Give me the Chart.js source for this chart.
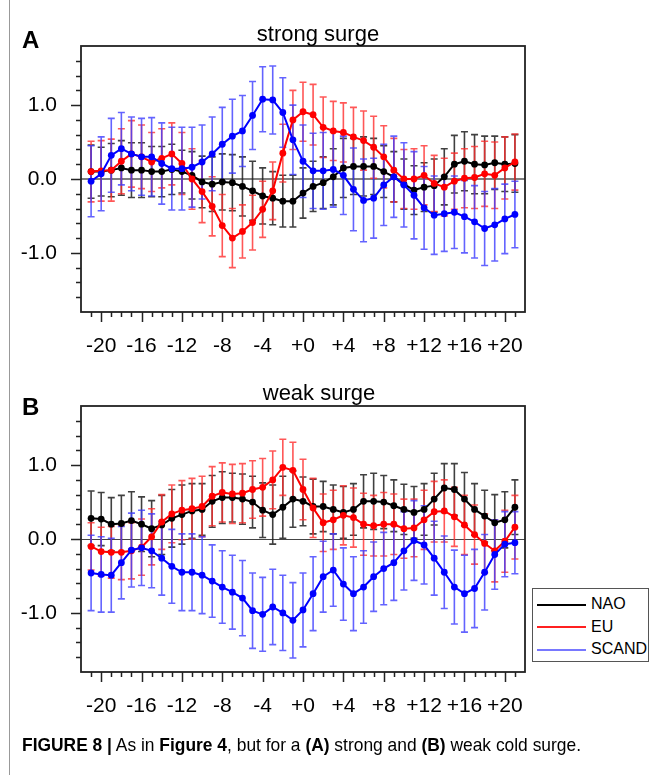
<!DOCTYPE html>
<html>
<head>
<meta charset="utf-8">
<script src="https://cdn.jsdelivr.net/npm/chart.js@4/dist/chart.umd.min.js"></script>
<style>
  body { margin: 0; background: #fff; font-family: 'Liberation Sans', Helvetica, Arial, sans-serif; }
  #page { position: relative; width: 652px; height: 775px; overflow: hidden; }
  canvas { position: absolute; left: 0; }
  .lbl { position: absolute; font-weight: bold; font-size: 24px; line-height: 1; }
  .ttl { position: absolute; font-size: 22px; line-height: 1; transform: translate(-50%, -50%); white-space: nowrap; }
  #border { position: absolute; left: 9px; top: 0; width: 1px; height: 775px; background: #999; }
  #legend { position: absolute; left: 532px; top: 588px; width: 115px; height: 72px; border: 1px solid #555; background: #fff; }
  .item { position: absolute; left: 4px; height: 20px; font-size: 16px; line-height: 20px; white-space: nowrap; }
  .item span.ln { display: inline-block; width: 49px; height: 2px; vertical-align: middle; margin-right: 5px; }
  #caption { position: absolute; left: 22px; top: 734px; font-family: 'Liberation Sans Narrow', 'Liberation Sans', Arial, sans-serif; font-size: 18.5px; line-height: 21px; white-space: nowrap; transform-origin: 0 0; }
</style>
</head>
<body>
<div id="page">
  <div id="border"></div>
  <canvas id="chartA" width="652" height="365" style="top:0"></canvas>
  <canvas id="chartB" width="652" height="365" style="top:360px"></canvas>
  <div class="lbl" style="left:22px; top:28px">A</div>
  <div class="lbl" style="left:22px; top:395px">B</div>
  <div class="ttl" style="left:318px; top:34px">strong surge</div>
  <div class="ttl" style="left:319px; top:393px">weak surge</div>
  <div id="legend"></div>
  <div id="caption"><b>FIGURE 8 |</b> As in <b>Figure 4</b>, but for a <b>(A)</b> strong and <b>(B)</b> weak cold surge.</div>
</div>
<script>
// lag in days
const days = [-21,-20,-19,-18,-17,-16,-15,-14,-13,-12,-11,-10,-9,-8,-7,-6,-5,-4,-3,-2,-1,
              0,1,2,3,4,5,6,7,8,9,10,11,12,13,14,15,16,17,18,19,20,21];

const seriesNames = ['NAO', 'EU', 'SCAND'];

// (A) strong surge
const naoA = [0.10,0.10,0.12,0.15,0.12,0.12,0.10,0.10,0.13,0.10,
              0.05,-0.04,-0.07,-0.04,-0.05,-0.10,-0.16,-0.23,-0.26,-0.30,-0.30,
              -0.19,-0.10,-0.05,0.03,0.15,0.17,0.17,0.17,0.10,0.03,
              -0.07,-0.15,-0.11,-0.09,0.03,0.20,0.24,0.20,0.19,0.22,
              0.20,0.21];
const euA = [0.10,0.11,0.12,0.24,0.34,0.30,0.23,0.28,0.34,0.21,
             0.00,-0.17,-0.37,-0.63,-0.80,-0.71,-0.59,-0.41,-0.16,0.35,0.80,
             0.91,0.87,0.70,0.65,0.63,0.57,0.52,0.43,0.30,0.12,
             0.00,0.00,0.05,-0.06,-0.11,-0.03,0.01,0.02,0.07,0.05,
             0.15,0.23];
const scandA = [-0.03,0.07,0.32,0.41,0.34,0.30,0.30,0.21,0.14,0.14,
                0.16,0.23,0.34,0.47,0.58,0.65,0.86,1.08,1.07,0.90,0.53,
                0.24,0.11,0.11,0.13,0.05,-0.14,-0.29,-0.26,-0.08,0.03,
                -0.08,-0.22,-0.39,-0.49,-0.47,-0.45,-0.51,-0.58,-0.67,-0.62,
                -0.54,-0.48];
// error bar half widths
const naoErrA = [0.36,0.33,0.36,0.37,0.37,0.37,0.34,0.34,0.34,0.29,
                 0.32,0.35,0.37,0.38,0.38,0.40,0.40,0.38,0.36,0.35,0.35,
                 0.34,0.34,0.35,0.38,0.40,0.38,0.40,0.38,0.35,0.34,
                 0.34,0.33,0.33,0.36,0.38,0.39,0.40,0.40,0.39,0.36,
                 0.37,0.39];
const euErrA = [0.41,0.41,0.42,0.44,0.45,0.43,0.40,0.40,0.42,0.42,
                0.41,0.42,0.40,0.42,0.40,0.36,0.37,0.38,0.39,0.39,0.40,
                0.40,0.41,0.41,0.40,0.40,0.40,0.40,0.42,0.42,0.43,
                0.40,0.41,0.40,0.38,0.39,0.38,0.40,0.42,0.44,0.45,
                0.42,0.38];
const scandErrA = [0.48,0.50,0.50,0.49,0.50,0.52,0.53,0.55,0.56,0.56,
                   0.54,0.50,0.50,0.50,0.50,0.48,0.46,0.44,0.46,0.47,0.47,
                   0.49,0.51,0.52,0.51,0.53,0.56,0.56,0.54,0.55,0.55,
                   0.57,0.59,0.56,0.53,0.51,0.49,0.49,0.49,0.50,0.49,
                   0.47,0.45];

// (B) weak surge
const naoB = [0.28,0.27,0.20,0.21,0.25,0.20,0.14,0.19,0.28,0.33,
              0.38,0.40,0.51,0.56,0.56,0.54,0.50,0.39,0.33,0.43,0.54,
              0.51,0.44,0.44,0.40,0.36,0.40,0.51,0.51,0.50,0.45,
              0.40,0.36,0.40,0.54,0.69,0.67,0.54,0.40,0.31,0.22,
              0.26,0.43];
const euB = [-0.10,-0.17,-0.18,-0.18,-0.16,-0.11,0.03,0.23,0.34,0.39,
             0.41,0.44,0.58,0.63,0.61,0.62,0.67,0.70,0.80,0.97,0.93,
             0.67,0.42,0.22,0.26,0.32,0.29,0.20,0.18,0.20,0.20,
             0.14,0.15,0.26,0.37,0.38,0.30,0.19,0.06,-0.06,-0.16,
             -0.03,0.16];
const scandB = [-0.46,-0.48,-0.49,-0.32,-0.15,-0.12,-0.16,-0.26,-0.37,-0.45,
                -0.45,-0.49,-0.57,-0.65,-0.72,-0.80,-0.97,-1.02,-0.92,-1.00,-1.10,
                -0.96,-0.74,-0.51,-0.42,-0.61,-0.74,-0.65,-0.51,-0.40,-0.32,
                -0.16,-0.02,-0.08,-0.26,-0.45,-0.65,-0.74,-0.67,-0.45,-0.21,
                -0.07,-0.05];
const naoErrB = [0.37,0.36,0.36,0.38,0.39,0.37,0.38,0.40,0.39,0.40,
                 0.37,0.35,0.35,0.35,0.33,0.34,0.35,0.37,0.40,0.42,0.38,
                 0.33,0.37,0.34,0.33,0.35,0.35,0.36,0.38,0.36,0.35,
                 0.34,0.35,0.35,0.35,0.33,0.35,0.36,0.35,0.35,0.38,
                 0.38,0.37];
const euErrB = [0.32,0.33,0.35,0.37,0.38,0.38,0.38,0.37,0.39,0.40,
                0.41,0.41,0.40,0.40,0.40,0.40,0.39,0.39,0.39,0.38,0.38,
                0.41,0.40,0.39,0.40,0.40,0.40,0.42,0.41,0.43,0.41,
                0.40,0.39,0.40,0.41,0.42,0.40,0.40,0.40,0.40,0.42,
                0.42,0.43];
const scandErrB = [0.51,0.51,0.50,0.49,0.50,0.51,0.50,0.50,0.50,0.52,
                   0.52,0.52,0.49,0.49,0.50,0.51,0.51,0.50,0.51,0.51,0.51,
                   0.50,0.50,0.48,0.49,0.49,0.50,0.49,0.47,0.49,0.51,
                   0.53,0.54,0.53,0.50,0.49,0.50,0.52,0.53,0.51,0.47,
                   0.44,0.42];

// tick labels
const xMajor = [-20,-16,-12,-8,-4,0,4,8,12,16,20];
const xTickLabels = ['-20','-16','-12','-8','-4','+0','+4','+8','+12','+16','+20'];
const yMajor = [-1, 0, 1];
const yTickLabels = ['-1.0','0.0','1.0'];

const lineColors = ['#000000', '#ff0000', '#0000ff'];
const barColors = ['rgba(30,30,30,0.85)', 'rgba(255,45,45,0.8)', 'rgba(60,60,255,0.8)'];
const legendColors = ['#000000', '#ff2020', '#7878ff'];

Chart.defaults.font.family = "'Liberation Sans', Helvetica, Arial, sans-serif";
Chart.defaults.color = '#000';

// error bars under the lines, plus NCL-style box and tick marks
const ncl = {
  id: 'ncl',
  beforeDatasetsDraw(chart) {
    const ctx = chart.ctx, ys = chart.scales.y;
    chart.data.datasets.forEach((ds, i) => {
      const meta = chart.getDatasetMeta(i);
      ctx.save();
      ctx.strokeStyle = ds.errColor;
      ctx.lineWidth = 1.6;
      meta.data.forEach((pt, j) => {
        const v = ds.data[j].y, e = ds.err[j];
        const top = ys.getPixelForValue(v + e), bot = ys.getPixelForValue(v - e);
        ctx.beginPath();
        ctx.moveTo(pt.x, top); ctx.lineTo(pt.x, bot);
        ctx.moveTo(pt.x - 3.5, top); ctx.lineTo(pt.x + 3.5, top);
        ctx.moveTo(pt.x - 3.5, bot); ctx.lineTo(pt.x + 3.5, bot);
        ctx.stroke();
      });
      ctx.restore();
    });
  },
  afterDraw(chart) {
    const ctx = chart.ctx, a = chart.chartArea;
    const xs = chart.scales.x, ys = chart.scales.y;
    ctx.save();
    ctx.strokeStyle = '#222';
    ctx.lineWidth = 1.8;
    ctx.strokeRect(a.left, a.top, a.right - a.left, a.bottom - a.top);
    ctx.lineWidth = 1.5;
    ctx.beginPath();
    ys.ticks.forEach(t => {
      if (t.value <= ys.min + 1e-6 || t.value >= ys.max - 1e-6) return;
      const py = Math.round(ys.getPixelForValue(t.value)) + 0.5;
      const major = Math.abs(t.value - Math.round(t.value)) < 1e-6;
      ctx.moveTo(a.left - (major ? 10 : 5), py); ctx.lineTo(a.left, py);
    });
    xs.ticks.forEach(t => {
      if (t.value <= xs.min || t.value >= xs.max) return;
      const px = Math.round(xs.getPixelForValue(t.value)) + 0.5;
      const major = t.value % 4 === 0;
      ctx.moveTo(px, a.bottom); ctx.lineTo(px, a.bottom + (major ? 10 : 5));
    });
    ctx.stroke();
    ctx.restore();
  }
};

function makePanel(id, values, errs, zeroColor, zeroWidth) {
  const datasets = values.map((vals, i) => ({
    label: seriesNames[i],
    data: days.map((d, j) => ({ x: d, y: vals[j] })),
    err: errs[i],
    errColor: barColors[i],
    borderColor: lineColors[i],
    backgroundColor: lineColors[i],
    borderWidth: 2,
    pointRadius: 3.4,
    pointBorderWidth: 0,
    pointBackgroundColor: lineColors[i],
    tension: 0,
    order: 2 - i
  }));
  return new Chart(document.getElementById(id), {
    type: 'line',
    data: { datasets },
    plugins: [ncl],
    options: {
      responsive: false,
      animation: false,
      layout: { padding: { left: 0, top: 46, right: 127, bottom: 0 } },
      plugins: { legend: { display: false }, tooltip: { enabled: false } },
      scales: {
        x: {
          type: 'linear',
          min: -22, max: 22,
          afterFit(s) { s.height = 53; },
          grid: { display: false, drawTicks: false },
          border: { display: false },
          ticks: {
            stepSize: 1, autoSkip: false, maxRotation: 0, padding: 22,
            font: { size: 21 },
            callback(v) { const k = xMajor.indexOf(v); return k < 0 ? '' : xTickLabels[k]; }
          }
        },
        y: {
          min: -1.8, max: 1.8,
          afterFit(s) { s.width = 81; },
          grid: {
            drawTicks: false,
            color: c => Math.abs(c.tick.value) < 1e-6 ? zeroColor : 'rgba(0,0,0,0)',
            lineWidth: zeroWidth
          },
          border: { display: false },
          ticks: {
            stepSize: 0.2, autoSkip: false, padding: 24,
            font: { size: 21 },
            callback(v) {
              const k = yMajor.findIndex(m => Math.abs(m - v) < 1e-6);
              return k < 0 ? '' : yTickLabels[k];
            }
          }
        }
      }
    }
  });
}

makePanel('chartA', [naoA, euA, scandA], [naoErrA, euErrA, scandErrA], '#7f7f7f', 2);
makePanel('chartB', [naoB, euB, scandB], [naoErrB, euErrB, scandErrB], '#444444', 1);

// legend (panel B)
const legend = document.getElementById('legend');
seriesNames.forEach((name, i) => {
  const row = document.createElement('div');
  row.className = 'item';
  row.style.top = (5 + i * 22.5) + 'px';
  row.innerHTML = '<span class="ln" style="background:' + legendColors[i] + '"></span>' + name;
  legend.appendChild(row);
});

// fit caption to the printed width
const cap = document.getElementById('caption');
const w = cap.getBoundingClientRect().width;
cap.style.transform = 'scaleX(' + (559 / w) + ')';
</script>
</body>
</html>
